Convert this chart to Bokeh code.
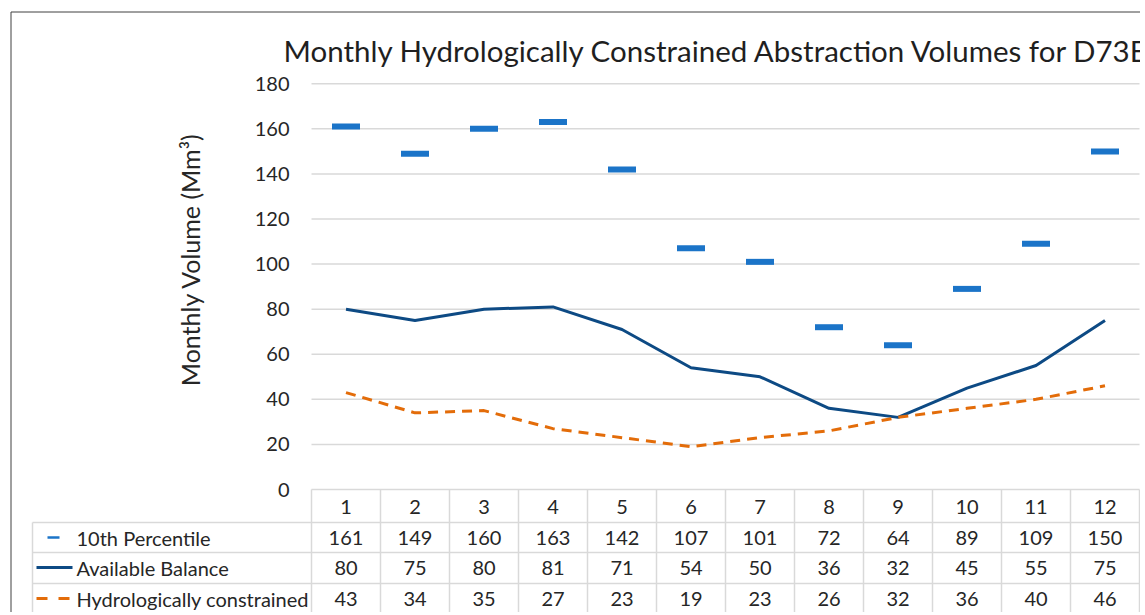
import math
from bokeh.plotting import figure
from bokeh.models import Range1d, LinearAxis, FixedTicker, Label
from bokeh.core.properties import value
from bokeh.embed import file_html
from bokeh.resources import INLINE

# ---------------- data ----------------
months = list(range(1, 13))
pct10 = [161, 149, 160, 163, 142, 107, 101, 72, 64, 89, 109, 150]
avail = [80, 75, 80, 81, 71, 54, 50, 36, 32, 45, 55, 75]
hydro = [43, 34, 35, 27, 23, 19, 23, 26, 32, 36, 40, 46]
y_ticks = [0, 20, 40, 60, 80, 100, 120, 140, 160, 180]
series_names = ["10th Percentile", "Available Balance", "Hydrologically constrained"]
title_text = "Monthly Hydrologically Constrained Abstraction Volumes for D73E"
y_title = "Monthly Volume (Mm\u00b3)"

# ---------------- layout helpers (page pixels -> data) ----------------
W, H = 1140, 612
M = 1
COL = 69.0
X0 = 277.5      # page x of month 0
Y0 = 490.0      # page y of value 0
YS = 2.254      # px per unit


def dx(px):
    return (px - X0) / COL


def dy(py):
    return (Y0 - py) / YS


FONT = "Lato"
BLUE = "#1b74c8"
NAVY = "#0d4a84"
ORANGE = "#e36c09"
GRID = "#d9d9d9"
TXT = "#262626"

p = figure(width=W, height=H,
           x_range=Range1d(dx(M), dx(M + W)),
           y_range=Range1d(dy(M + H), dy(M)),
           x_axis_location=None, y_axis_location=None,
           toolbar_location=None, output_backend="svg",
           min_border=0, outline_line_color=None)
p.grid.visible = False

# outer chart border (left and top)
p.segment(x0=[dx(11.5), dx(11.5)], y0=[dy(12.5), dy(12.5)],
          x1=[dx(11.5), dx(1160)], y1=[dy(700), dy(12.5)],
          line_color="#404040", line_width=1)

# gridlines
p.segment(x0=[dx(312)] * len(y_ticks), x1=[dx(1140)] * len(y_ticks),
          y0=y_ticks, y1=y_ticks, line_color=GRID, line_width=1.5)

# table lines
hy = [dy(523), dy(553), dy(584), dy(614)]
p.segment(x0=[dx(33)] * 4, x1=[dx(1140)] * 4, y0=hy, y1=hy,
          line_color=GRID, line_width=1.5)
vx = [dx(312 + COL * k) for k in range(13)]
p.segment(x0=vx, x1=vx, y0=[0] * 13, y1=[dy(614)] * 13,
          line_color=GRID, line_width=1.5)
p.segment(x0=[dx(33)], x1=[dx(33)], y0=[dy(523)], y1=[dy(614)],
          line_color=GRID, line_width=1.5)

# series
p.rect(x=months, y=pct10, width=28, height=6, width_units="screen",
       height_units="screen", fill_color=BLUE, line_color=None)
p.line(months, avail, line_color=NAVY, line_width=3)
p.line(months, hydro, line_color=ORANGE, line_width=3, line_dash="10 7")

# table values
row_y = [dy(538), dy(568), dy(599)]
for vals, ry in zip([pct10, avail, hydro], row_y):
    p.text(x=months, y=[ry] * 12, text=[str(v) for v in vals],
           text_font=value(FONT), text_font_size="20px", text_color=TXT,
           text_align="center", text_baseline="middle")

# legend keys and names in table
p.segment(x0=[dx(48)], x1=[dx(60)], y0=[row_y[0]], y1=[row_y[0]],
          line_color=BLUE, line_width=2.5)
p.segment(x0=[dx(37)], x1=[dx(73)], y0=[row_y[1]], y1=[row_y[1]],
          line_color=NAVY, line_width=3)
p.segment(x0=[dx(37)], x1=[dx(71)], y0=[row_y[2]], y1=[row_y[2]],
          line_color=ORANGE, line_width=3, line_dash="11 11")
p.text(x=[dx(77)] * 3, y=row_y, text=series_names,
       text_font=value(FONT), text_font_size="20px", text_color=TXT,
       text_align="left", text_baseline="middle")

# axes
yax = LinearAxis(ticker=FixedTicker(ticks=y_ticks), fixed_location=0.5)
yax.axis_line_color = None
yax.major_tick_line_color = None
yax.minor_tick_line_color = None
yax.major_label_standoff = 16
yax.major_label_text_font = FONT
yax.major_label_text_font_size = "20px"
yax.major_label_text_color = TXT
p.add_layout(yax, "left")

xax = LinearAxis(ticker=FixedTicker(ticks=months), fixed_location=0)
xax.axis_line_color = None
xax.major_tick_line_color = None
xax.minor_tick_line_color = None
xax.major_label_standoff = 4
xax.major_label_text_font = FONT
xax.major_label_text_font_size = "20px"
xax.major_label_text_color = TXT
p.add_layout(xax, "below")

# y-axis title
p.add_layout(Label(x=dx(190), y=dy(260), text=y_title, angle=math.pi / 2,
                   text_font=FONT, text_font_size="25px", text_color=TXT,
                   text_align="center", text_baseline="middle"))

# title
p.add_layout(Label(x=dx(284), y=dy(51), text=title_text,
                   text_font=FONT, text_font_size="29.5px",
                   text_color="#1f1f1f", text_baseline="alphabetic"))

open("out.html", "w").write(file_html(p, INLINE))
